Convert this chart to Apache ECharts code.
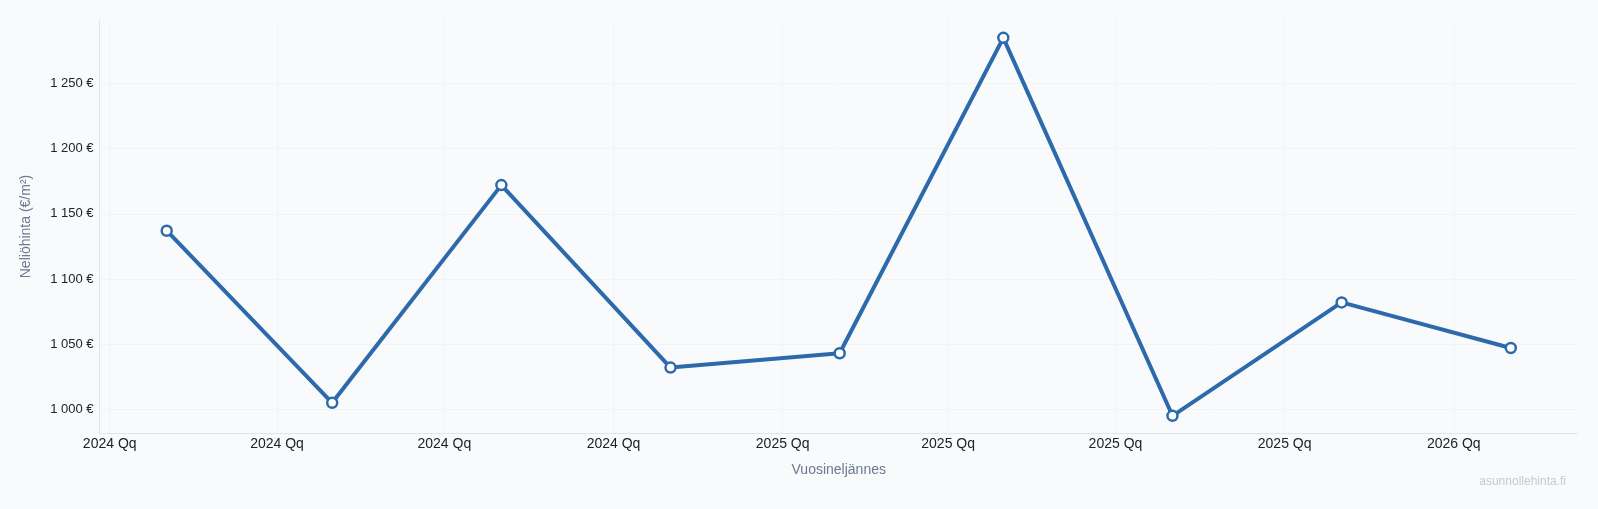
<!DOCTYPE html>
<html>
<head>
<meta charset="utf-8">
<script src="https://cdn.jsdelivr.net/npm/echarts@6/dist/echarts.min.js"></script>
<style>
  html, body { margin: 0; padding: 0; background: #f8fafc; }
  #chart { width: 1598px; height: 509px; }
</style>
</head>
<body>
<div id="chart"></div>
<script>
// neljännekset (pisteiden päivät) ja neliöhinnat
const dates = ["2024-02-01", "2024-05-01", "2024-08-01", "2024-11-01",
  "2025-02-01", "2025-05-01", "2025-08-01", "2025-11-01", "2026-02-01"];
const prices = [1137, 1005, 1172, 1032, 1043, 1285, 995, 1082, 1047];

// x-akselin merkinnät
const tickDates = ["2024-01-01", "2024-04-01", "2024-07-01", "2024-10-01",
  "2025-01-01", "2025-04-01", "2025-07-01", "2025-10-01", "2026-01-01"];
const tickLabels = ["2024 Qq", "2024 Qq", "2024 Qq", "2024 Qq",
  "2025 Qq", "2025 Qq", "2025 Qq", "2025 Qq", "2026 Qq"];
const yTicks = [1000, 1050, 1100, 1150, 1200, 1250];

const toTime = (s) => {
  const p = s.split("-").map(Number);
  return Date.UTC(p[0], p[1] - 1, p[2]);
};

const xs = dates.map(toTime);
const tickTimes = tickDates.map(toTime);
const span = xs[xs.length - 1] - xs[0];

const myChart = echarts.init(document.getElementById("chart"));

const option = {
  backgroundColor: "#f8fafc",
  textStyle: { fontFamily: "Liberation Sans, Arial, sans-serif" },
  grid: { left: 99.5, right: 20, top: 20, bottom: 76 },
  xAxis: {
    type: "value",
    min: xs[0] - span * 0.05,
    max: xs[xs.length - 1] + span * 0.05,
    name: "Vuosineljännes",
    nameLocation: "middle",
    nameGap: 30,
    nameTextStyle: { color: "#6b7a8e", fontSize: 14 },
    axisLine: { show: true, lineStyle: { color: "#dfe5ec", width: 1 } },
    axisTick: { show: false, customValues: tickTimes },
    axisLabel: {
      customValues: tickTimes,
      color: "#222",
      fontSize: 14,
      margin: 4,
      formatter: (v) => {
        const i = tickTimes.indexOf(v);
        return i >= 0 ? tickLabels[i] : "";
      },
    },
    splitLine: { show: true, lineStyle: { color: "#f1f3f6", width: 1 } },
  },
  yAxis: {
    type: "value",
    min: 981.8,
    max: 1298.7,
    name: "Neliöhinta (€/m²)",
    nameLocation: "middle",
    nameGap: 66,
    nameTextStyle: { color: "#6b7a8e", fontSize: 14 },
    axisLine: { show: true, lineStyle: { color: "#dfe5ec", width: 1 } },
    axisTick: { show: false, customValues: yTicks },
    axisLabel: {
      customValues: yTicks,
      color: "#222",
      fontSize: 13,
      margin: 6,
      formatter: (v) => String(Math.round(v)).replace(/\B(?=(\d{3})+(?!\d))/g, " ") + " €",
    },
    splitLine: { show: true, lineStyle: { color: "#f1f3f6", width: 1 } },
  },
  graphic: [
    {
      type: "text",
      right: 32,
      top: 476,
      style: { text: "asunnollehinta.fi", fill: "#c5cad3", fontSize: 12, fontFamily: "Liberation Sans, Arial, sans-serif" },
    },
  ],
  series: [
    {
      name: "Neliöhinta",
      type: "line",
      data: xs.map((x, i) => [x, prices[i]]),
      symbol: "circle",
      symbolSize: 10,
      lineStyle: { color: "#2d6aab", width: 4 },
      itemStyle: { color: "#ffffff", borderColor: "#2d6aab", borderWidth: 2.5 },
      emphasis: { disabled: true },
      animation: false,
    },
  ],
};

myChart.setOption(option);
</script>
</body>
</html>
